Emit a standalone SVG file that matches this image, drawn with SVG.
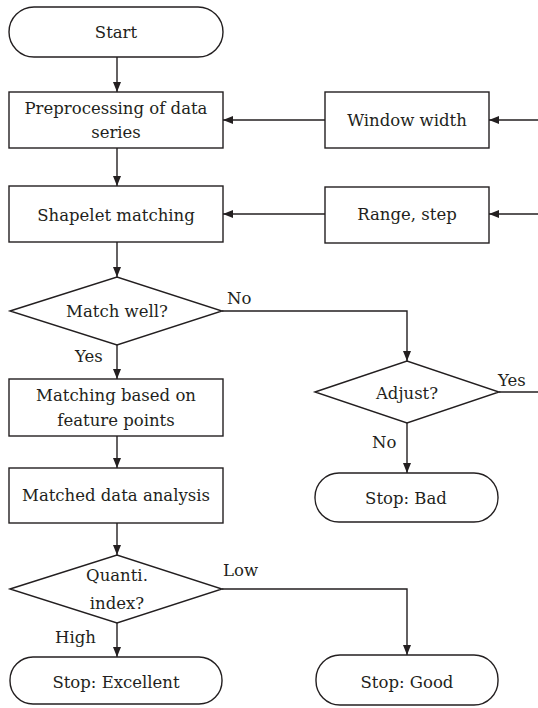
<svg xmlns="http://www.w3.org/2000/svg" width="538" height="708" viewBox="0 0 538 708">
<style>
.s{fill:#fff;stroke:#231f20;stroke-width:1.4}
.c{fill:none;stroke:#231f20;stroke-width:1.4}
text{font-family:'DejaVu Serif',serif;font-size:16.5px;fill:#231f20}
.m{text-anchor:middle}
</style>
<defs>
<marker id="a" markerWidth="10" markerHeight="8" refX="10" refY="4" orient="auto" markerUnits="userSpaceOnUse">
<path d="M0,0L10,4L0,8z" fill="#231f20"/>
</marker>
</defs>
<rect width="538" height="708" fill="#fff"/>
<g id="connectors">
<path class="c" d="M117,57V92" marker-end="url(#a)"/>
<path class="c" d="M117,148V186" marker-end="url(#a)"/>
<path class="c" d="M325,120H223" marker-end="url(#a)"/>
<path class="c" d="M538,120H489" marker-end="url(#a)"/>
<path class="c" d="M325,214H223" marker-end="url(#a)"/>
<path class="c" d="M538,214H489" marker-end="url(#a)"/>
<path class="c" d="M117,242V277" marker-end="url(#a)"/>
<path class="c" d="M117,345V379" marker-end="url(#a)"/>
<path class="c" d="M222,311H407V361" marker-end="url(#a)"/>
<path class="c" d="M499,392H538"/>
<path class="c" d="M407,423V473" marker-end="url(#a)"/>
<path class="c" d="M117,436V468" marker-end="url(#a)"/>
<path class="c" d="M117,523V555" marker-end="url(#a)"/>
<path class="c" d="M117,623V657" marker-end="url(#a)"/>
<path class="c" d="M222,589H407V655" marker-end="url(#a)"/>
<text x="227" y="304">No</text>
<text x="75" y="362">Yes</text>
<text x="498" y="386">Yes</text>
<text x="372" y="448">No</text>
<text x="223" y="576">Low</text>
<text x="55" y="643">High</text>
</g>
<g id="start"><rect class="s" x="9" y="7" width="214" height="50" rx="25"/><text class="m" x="116" y="38">Start</text></g>
<g id="preprocess"><rect class="s" x="9" y="92" width="214" height="56"/><text class="m" x="116" y="114">Preprocessing of data</text><text class="m" x="116" y="138">series</text></g>
<g id="window"><rect class="s" x="325" y="92" width="164" height="56"/><text class="m" x="407" y="126">Window width</text></g>
<g id="shapelet"><rect class="s" x="9" y="186" width="214" height="56"/><text class="m" x="116" y="221">Shapelet matching</text></g>
<g id="range"><rect class="s" x="325" y="187" width="164" height="56"/><text class="m" x="407" y="220">Range, step</text></g>
<g id="matchwell"><path class="s" d="M10,311L117,277L222,311L117,345z"/><text class="m" x="117" y="317">Match well?</text></g>
<g id="adjust"><path class="s" d="M315,392L407,361L499,392L407,423z"/><text class="m" x="407" y="399">Adjust?</text></g>
<g id="matching"><rect class="s" x="9" y="379" width="214" height="57"/><text class="m" x="116" y="401">Matching based on</text><text class="m" x="116" y="426">feature points</text></g>
<g id="stopbad"><rect class="s" x="315" y="473" width="183" height="49" rx="24"/><text class="m" x="406" y="504">Stop: Bad</text></g>
<g id="analysis"><rect class="s" x="9" y="468" width="214" height="55"/><text class="m" x="116" y="501">Matched data analysis</text></g>
<g id="quanti"><path class="s" d="M10,589L117,555L222,589L117,623z"/><text class="m" x="117" y="581">Quanti.</text><text class="m" x="117" y="609">index?</text></g>
<g id="stopexcellent"><rect class="s" x="10" y="657" width="212" height="47" rx="23"/><text class="m" x="116" y="688">Stop: Excellent</text></g>
<g id="stopgood"><rect class="s" x="316" y="655" width="182" height="50" rx="24"/><text class="m" x="407" y="688">Stop: Good</text></g>
</svg>
